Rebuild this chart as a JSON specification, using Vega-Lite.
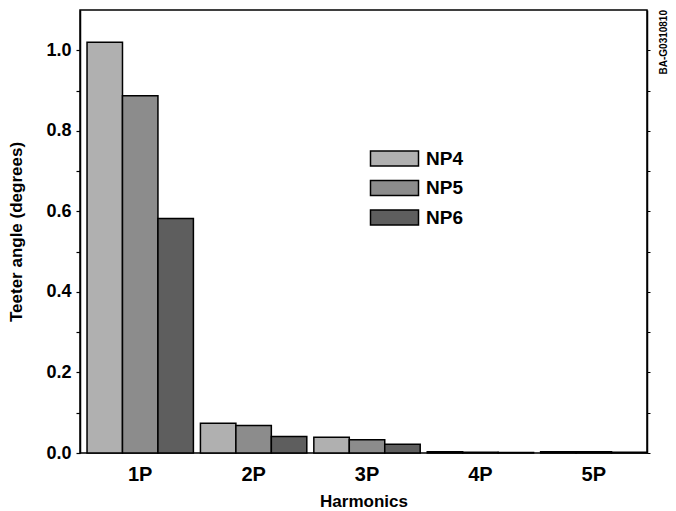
{
  "$schema": "https://vega.github.io/schema/vega-lite/v6.json",
  "width": 567,
  "height": 443,
  "autosize": "none",
  "padding": {"left": 80, "top": 10, "right": 29, "bottom": 58},
  "background": "white",
  "config": {
    "font": "Liberation Sans",
    "view": {"stroke": "black", "strokeWidth": 1.5},
    "axis": {"domainColor": "black", "tickColor": "black", "labelColor": "black", "titleColor": "black", "grid": false}
  },
  "title": {
    "text": "BA-G0310810",
    "orient": "right",
    "anchor": "start",
    "angle": -90,
    "align": "right",
    "fontSize": 10,
    "fontWeight": "bold",
    "color": "black",
    "offset": -2
  },
  "data": {
    "values": [
      {"harmonic": "1P", "series": "NP4", "value": 1.02},
      {"harmonic": "1P", "series": "NP5", "value": 0.887},
      {"harmonic": "1P", "series": "NP6", "value": 0.582},
      {"harmonic": "2P", "series": "NP4", "value": 0.074},
      {"harmonic": "2P", "series": "NP5", "value": 0.068},
      {"harmonic": "2P", "series": "NP6", "value": 0.041},
      {"harmonic": "3P", "series": "NP4", "value": 0.039},
      {"harmonic": "3P", "series": "NP5", "value": 0.033},
      {"harmonic": "3P", "series": "NP6", "value": 0.022},
      {"harmonic": "4P", "series": "NP4", "value": 0.003},
      {"harmonic": "4P", "series": "NP5", "value": 0.002},
      {"harmonic": "4P", "series": "NP6", "value": 0.001},
      {"harmonic": "5P", "series": "NP4", "value": 0.003},
      {"harmonic": "5P", "series": "NP5", "value": 0.003},
      {"harmonic": "5P", "series": "NP6", "value": 0.002}
    ]
  },
  "layer": [
    {
      "mark": {"type": "bar", "stroke": "black", "strokeWidth": 1.5},
      "encoding": {
        "x": {
          "field": "harmonic", "type": "nominal", "sort": null,
          "scale": {"paddingInner": 0.062, "paddingOuter": 0.031, "align": 1},
          "axis": {
            "title": "Harmonics", "labelAngle": 0, "ticks": false, "domain": false,
            "labelFontSize": 20, "labelFontWeight": "bold", "labelPadding": 11,
            "titleFontSize": 17, "titleFontWeight": "bold", "titlePadding": 9
          }
        },
        "xOffset": {"field": "series", "type": "nominal", "scale": {"paddingInner": 0, "paddingOuter": 0}},
        "y": {
          "field": "value", "type": "quantitative",
          "scale": {"domain": [0, 1.1], "nice": false, "zero": true},
          "axis": {
            "title": "Teeter angle (degrees)",
            "values": [0, 0.1, 0.2, 0.3, 0.4, 0.5, 0.6, 0.7, 0.8, 0.9, 1.0],
            "labelExpr": "round(datum.value*10) % 2 == 0 ? format(datum.value, '.1f') : ''",
            "tickSize": 4, "tickWidth": 1.2, "labelPadding": 5,
            "labelFontSize": 18, "labelFontWeight": "bold",
            "titleFontSize": 17, "titleFontWeight": "bold", "titlePadding": 20,
            "domainWidth": 1.5
          }
        },
        "color": {
          "field": "series", "type": "nominal",
          "scale": {"domain": ["NP4", "NP5", "NP6"], "range": ["#b0b0b0", "#8c8c8c", "#5e5e5e"]},
          "legend": {
            "title": null,
            "orient": "none",
            "legendX": 305,
            "legendY": 139,
            "padding": 0,
            "symbolType": "M-3,-0.94H3V0.94H-3Z",
            "symbolSize": 256,
            "symbolStrokeColor": "black",
            "symbolStrokeWidth": 1.5,
            "symbolOpacity": 1,
            "labelFontSize": 19,
            "labelFontWeight": "bold",
            "labelColor": "black",
            "labelOffset": 22,
            "rowPadding": 6.5
          }
        }
      }
    },
    {
      "mark": {"type": "rule", "opacity": 0},
      "encoding": {
        "y": {
          "field": "value", "type": "quantitative",
          "scale": {"domain": [0, 1.1], "nice": false, "zero": true},
          "axis": {
            "orient": "right", "title": null, "labels": false,
            "values": [0, 0.1, 0.2, 0.3, 0.4, 0.5, 0.6, 0.7, 0.8, 0.9, 1.0],
            "tickSize": 3, "domainWidth": 1.5
          }
        }
      }
    }
  ],
  "resolve": {"axis": {"y": "independent"}}
}
